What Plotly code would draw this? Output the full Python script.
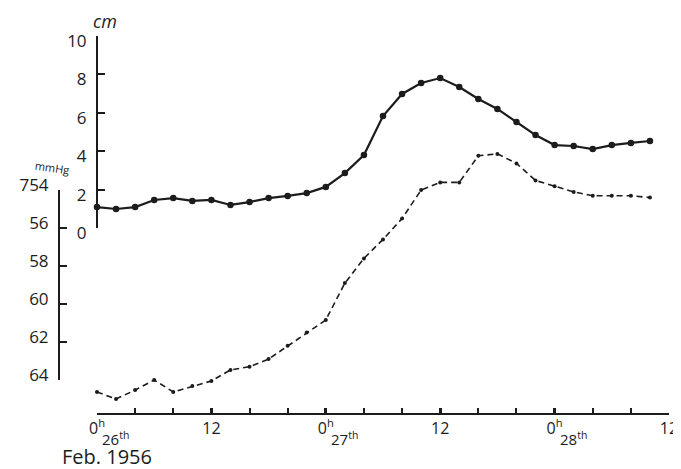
import plotly.graph_objects as go

# ---- data (hours from 0h Feb 26, 1956) ----
hours_cm = [0, 2, 4, 6, 8, 10, 12, 14, 16, 18, 20, 22, 24, 26, 28, 30, 32, 34, 36, 38,
            40, 42, 44, 46, 48, 50, 52, 54, 56, 58]
level_cm = [1.09, 0.99, 1.09, 1.46, 1.56, 1.41, 1.46, 1.20, 1.35, 1.56, 1.67, 1.82, 2.14,
            2.86, 3.80, 5.83, 6.98, 7.55, 7.81, 7.34, 6.72, 6.20, 5.52, 4.84, 4.32, 4.27,
            4.11, 4.32, 4.43, 4.53]

hours_hg = [0, 2, 4, 6, 8, 10, 12, 14, 16, 18, 20, 22, 24, 26, 28, 30, 32, 34, 36, 38,
            40, 42, 44, 46, 48, 50, 52, 54, 56, 58]
pressure_mmhg = [764.63, 765.0, 764.53, 764.0, 764.63, 764.32, 764.05, 763.47, 763.3,
                 762.9, 762.2, 761.5, 760.84, 758.9, 757.6, 756.6, 755.5, 754.0, 753.6,
                 753.6, 752.2, 752.1, 752.6, 753.5, 753.8, 754.1, 754.3, 754.3, 754.3,
                 754.4]

x_tickvals = [0, 12, 24, 36, 48, 60]
x_ticktext = ["0<sup>h</sup>", "12", "0<sup>h</sup>", "12", "0<sup>h</sup>", "12"]
cm_tickvals = [0, 2, 4, 6, 8, 10]
cm_ticktext = ["0", "2", "4", "6", "8", "10"]
hg_tickvals = [754, 756, 758, 760, 762, 764]
hg_ticktext = ["754", "56", "58", "60", "62", "64"]
day_labels = ["26<sup>th</sup>", "27<sup>th</sup>", "28<sup>th</sup>"]
day_hours = [0, 24, 48]

W, H = 681, 469
OFF = 8  # page body margin
INK = "#1c1c1c"
FONT = "Open Sans"


def px(x):
    return (x - OFF) / W


def py(y):
    return 1 - (y - OFF) / H


# geometry of the drawn axes (page pixels)
px_x0, px_x60 = 97, 669
px_cm0, px_cm10 = 228, 36
px_hg754, px_hg764 = 190, 380
px_xaxis = 413
cm_per_px = 10 / (px_cm0 - px_cm10)
hg_per_px = 10 / (px_hg764 - px_hg754)
top_px, bot_px = OFF, OFF + H

fig = go.Figure()

fig.add_trace(go.Scatter(
    x=hours_cm, y=level_cm, mode="lines+markers", xaxis="x", yaxis="y",
    line=dict(color=INK, width=2.2), marker=dict(color=INK, size=6.5),
    cliponaxis=False, showlegend=False, hoverinfo="skip"))

fig.add_trace(go.Scatter(
    x=hours_hg, y=pressure_mmhg, mode="lines+markers", xaxis="x", yaxis="y2",
    line=dict(color=INK, width=1.6, dash="6px,4px"), marker=dict(color=INK, size=4),
    cliponaxis=False, showlegend=False, hoverinfo="skip"))

# empty traces registering the helper subplots that carry the drawn axes
for xa, ya in [("x2", "y3"), ("x3", "y4"), ("x", "y5")]:
    fig.add_trace(go.Scatter(x=[None], y=[None], xaxis=xa, yaxis=ya,
                             showlegend=False, hoverinfo="skip"))

axfont = dict(family=FONT, size=17, color=INK)
hidden = dict(visible=False, fixedrange=True, automargin=False, showgrid=False,
              zeroline=False)

fig.update_layout(
    width=W, height=H, autosize=False,
    margin=dict(l=0, r=0, t=0, b=0, pad=0, autoexpand=False),
    paper_bgcolor="white", plot_bgcolor="rgba(0,0,0,0)", showlegend=False,
    xaxis=dict(domain=[px(px_x0), px(px_x60)], range=[0, 60], anchor="y5",
               side="bottom", showgrid=False, zeroline=False,
               automargin=False, showline=True, linecolor=INK, linewidth=2,
               tickmode="array", tickvals=x_tickvals, ticktext=x_ticktext,
               ticks="inside", ticklen=5, tickwidth=2.5, tickcolor=INK,
               minor=dict(dtick=4, tick0=0, ticks="inside", ticklen=5, tickwidth=1.5,
                          tickcolor=INK, showgrid=False),
               tickfont=dict(family=FONT, size=16, color=INK), ticklabelstandoff=0,
               fixedrange=True),
    yaxis=dict(domain=[0, 1], anchor="x",
               range=[(px_cm0 - bot_px) * cm_per_px, (px_cm0 - top_px) * cm_per_px],
               **hidden),
    yaxis2=dict(domain=[0, 1], overlaying="y", anchor="x",
                range=[754 + (bot_px - px_hg754) * hg_per_px,
                       754 + (top_px - px_hg754) * hg_per_px],
                **hidden),
    yaxis5=dict(domain=[py(px_xaxis), 1], anchor="x", range=[0, 1], **hidden),
    xaxis2=dict(domain=[px(98), 1], anchor="y3", range=[0, 1], **hidden),
    xaxis3=dict(domain=[px(60), 1], anchor="y4", range=[0, 1], **hidden),
    yaxis3=dict(domain=[py(px_cm0), py(px_cm10)], range=[0, 10], automargin=False,
                anchor="x2", side="left",
                showgrid=False, zeroline=False, showline=True, linecolor=INK, linewidth=2,
                tickmode="array", tickvals=cm_tickvals, ticktext=cm_ticktext,
                ticks="inside", ticklen=7, tickwidth=1.8, tickcolor=INK,
                tickfont=axfont, ticklabelstandoff=6, ticklabelshift=5, fixedrange=True),
    yaxis4=dict(domain=[py(px_hg764), py(px_hg754)], range=[764, 754], automargin=False,
                anchor="x3", side="left",
                showgrid=False, zeroline=False, showline=True, linecolor=INK, linewidth=2,
                tickmode="array", tickvals=hg_tickvals, ticktext=hg_ticktext,
                ticks="inside", ticklen=7, tickwidth=1.8, tickcolor=INK,
                tickfont=axfont, ticklabelstandoff=6, ticklabelshift=5, fixedrange=True),
)

for h, lab in zip(day_hours, day_labels):
    fig.add_annotation(x=h, y=py(438), xref="x", yref="paper", text=lab,
                       xanchor="left", yanchor="middle", showarrow=False, xshift=3,
                       font=dict(family=FONT, size=15, color=INK))

fig.add_annotation(x=px(60), y=py(456), xref="paper", yref="paper", text="Feb. 1956",
                   xanchor="left", yanchor="middle", showarrow=False,
                   font=dict(family=FONT, size=20, color=INK))
fig.add_annotation(x=px(91), y=py(21), xref="paper", yref="paper", text="<i>cm</i>",
                   xanchor="left", yanchor="middle", showarrow=False,
                   font=dict(family=FONT, size=18, color=INK))
fig.add_annotation(x=px(32), y=py(167), xref="paper", yref="paper", text="mmHg",
                   xanchor="left", yanchor="middle", showarrow=False, textangle=8,
                   font=dict(family=FONT, size=11, color=INK))

fig.write_html("out.html")
